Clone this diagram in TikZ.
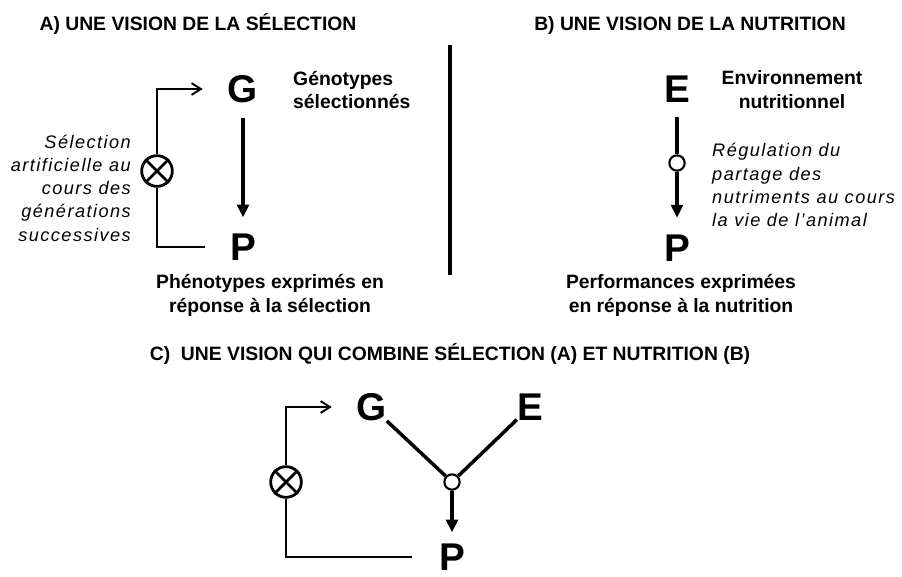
\documentclass[tikz,border=0pt]{standalone}
\usepackage{fontspec}
\setmainfont{Liberation Sans}
\newfontfamily\italespace[LetterSpace=8]{Liberation Sans}
\usetikzlibrary{arrows.meta}

\begin{document}
\begin{tikzpicture}[x=0.03cm, y=-0.03cm,
		titre/.style={font=\fontsize{16.5}{20}\selectfont\bfseries, inner sep=0pt, anchor=base},
		lettre/.style={font=\fontsize{33}{36}\selectfont\bfseries, inner sep=0pt},
		legende/.style={font=\fontsize{16.5}{20.4}\selectfont\bfseries, align=center, inner sep=0pt},
		commentaire/.style={font=\italespace\itshape\fontsize{15.5}{19.8}\selectfont, inner sep=0pt},
		trait/.style={line width=3pt},
		fleche/.style={trait, -{Triangle[length=11pt,width=10pt]}},
		lien/.style={line width=1.6pt},
		retour/.style={lien, -{Straight Barb[length=8pt,width=10pt]}},
		croix/.style={circle, draw, line width=2.4pt, fill=white, minimum size=0.92cm, inner sep=0pt},
		jonction/.style={circle, draw, line width=1.8pt, fill=white, minimum size=0.46cm, inner sep=0pt}]
		\useasboundingbox (0,0) rectangle (902,576);
		% Séparation entre A et B
		\draw[line width=3.4pt] (450,45) -- (450,275);
		% A) sélection
		\node[titre] (titreA) at (198,30) {A) UNE VISION DE LA SÉLECTION};
		\node[lettre] (GA) at (243,89) {G};
		\node[lettre] (PA) at (243,247) {P};
		\node[croix] (selA) at (157,171) {};
		\node[legende, align=left, anchor=west] (genoA) at (293,90) {Génotypes\\sélectionnés};
		\node[legende] (phenoA) at (270,295) {Phénotypes exprimés en\\réponse à la sélection};
		\node[commentaire, anchor=east, align=right] (comA) at (131,188)
			{Sélection\\artificielle au\\cours des\\générations\\successives};
		\draw[fleche, shorten <=0.45cm, shorten >=0.48cm] (GA) -- (PA);
		\draw[lien, shorten <=0.75cm] (PA.west) -| (selA.south);
		\draw[retour, shorten >=0.75cm] (selA.north) |- (GA.west);
		% B) nutrition
		\node[titre] (titreB) at (690,30) {B) UNE VISION DE LA NUTRITION};
		\node[lettre] (EB) at (677,89) {E};
		\node[lettre] (PB) at (677,248) {P};
		\node[jonction] (regB) at (677,163) {};
		\node[legende] (envB) at (792,90) {Environnement\\nutritionnel};
		\node[commentaire, anchor=west, align=left] (comB) at (712,185)
			{Régulation du\\partage des\\nutriments au cours\\la vie de l’animal};
		\node[legende] (perfB) at (681,295) {Performances exprimées\\en réponse à la nutrition};
		\draw[trait, shorten <=0.42cm] (EB) -- (regB);
		\draw[fleche, shorten >=0.5cm] (regB) -- (PB);
		% C) combinaison
		\node[titre] (titreC) at (450,360) {C)\ \ UNE VISION QUI COMBINE SÉLECTION (A) ET NUTRITION (B)};
		\node[lettre] (GC) at (372,407) {G};
		\node[lettre] (EC) at (530,407) {E};
		\node[jonction] (jC) at (452,482) {};
		\node[lettre] (PC) at (452,557) {P};
		\node[croix] (selC) at (286,482) {};
		\draw[trait] (GC) -- (jC);
		\draw[trait] (EC) -- (jC);
		\draw[fleche, shorten >=0.33cm] (jC) -- (PC);
		\draw[lien, shorten <=0.8cm] (PC.west) -| (selC.south);
		\draw[retour, shorten >=0.75cm] (selC.north) |- (GC.west);
		% Croix des symboles de sélection
		\foreach \s in {selA, selC} {
			\draw[line width=2.4pt] (\s.north west) -- (\s.south east) (\s.north east) -- (\s.south west);
		}
	\end{tikzpicture}
\end{document}
